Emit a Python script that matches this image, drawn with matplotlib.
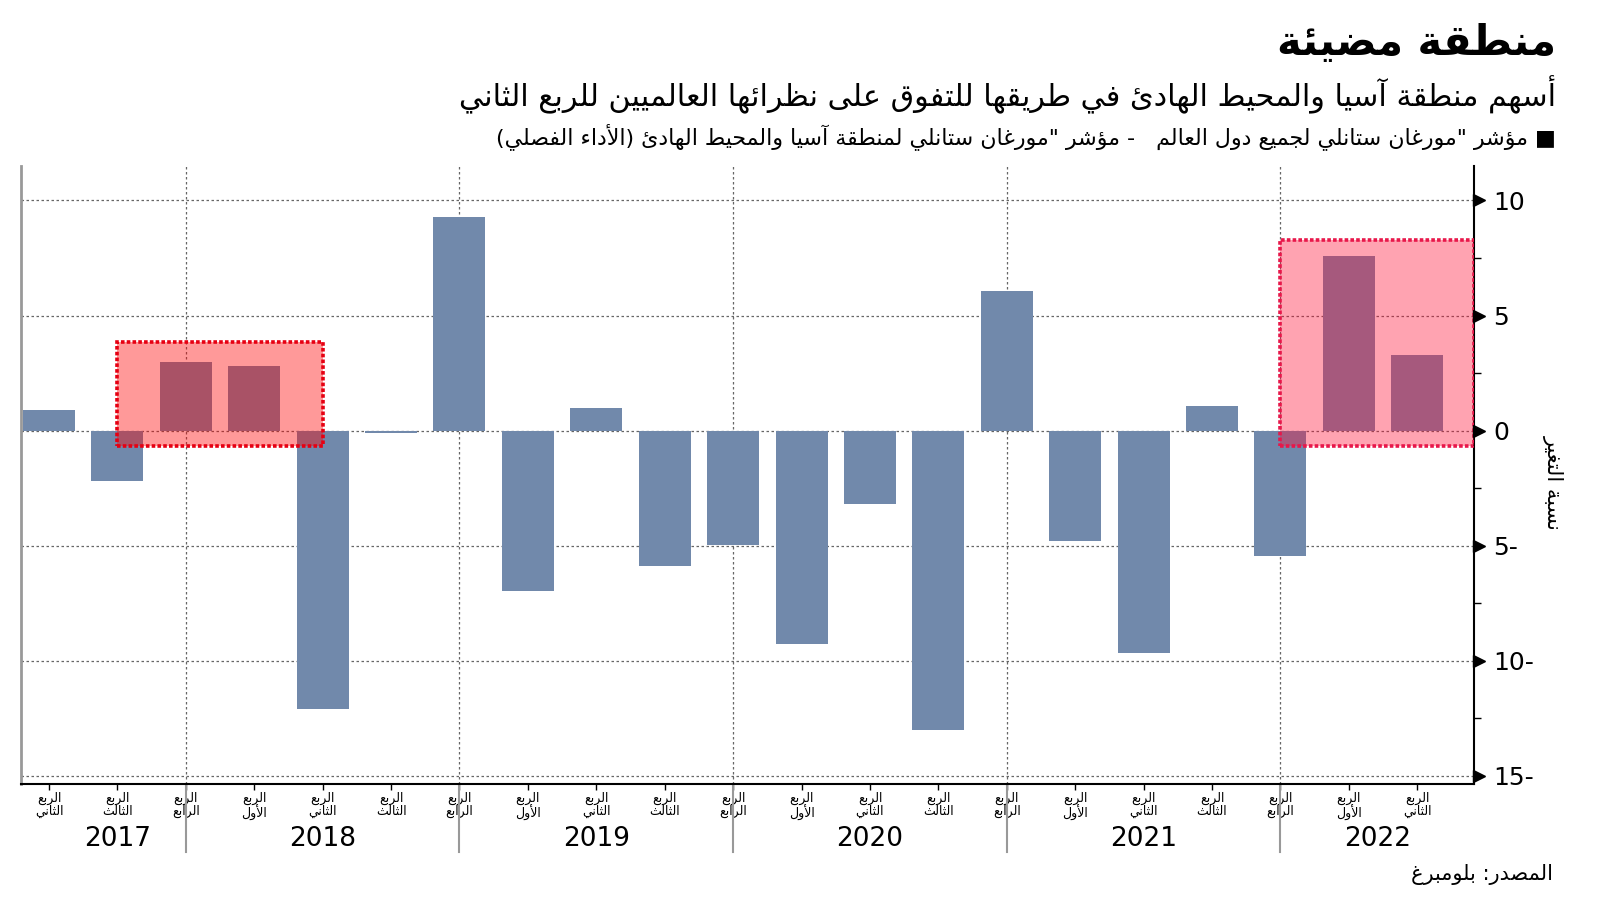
#!/usr/bin/env python
# quarterly relative performance chart, arabic labels shaped by hand
import numpy as np
import matplotlib
matplotlib.use('Agg')
import matplotlib.pyplot as plt
import matplotlib.transforms as mtransforms
from matplotlib.patches import Rectangle

# ---- data ----
years = ['2017', '2018', '2019', '2020', '2021', '2022']
quarters = ['الثاني', 'الثالث', 'الرابع',
            'الأول', 'الثاني', 'الثالث', 'الرابع',
            'الأول', 'الثاني', 'الثالث', 'الرابع',
            'الأول', 'الثاني', 'الثالث', 'الرابع',
            'الأول', 'الثاني', 'الثالث', 'الرابع',
            'الأول', 'الثاني']
values = [0.9, -2.2, 3.0, 2.8, -12.1, -0.1, 9.3,
          -6.95, 1.0, -5.9, -4.95,
          -9.25, -3.2, -13.0, 6.05,
          -4.8, -9.65, 1.05, -5.45,
          7.6, 3.3]
year_breaks = [2, 6, 10, 14, 18]        # index of each Q4 bar
y_ticks = [-15, -10, -5, 0, 5, 10]
y_labels = ['15-', '10-', '5-', '0', '5', '10']
hl_left = [1, 18]
hl_right = [4, 20.83]
hl_top = [3.85, 8.28]
hl_bottom = [-0.68, -0.68]
hl_face = [(1.0, 0.0, 0.0, 0.4), (1.0, 0.05, 0.2, 0.38)]
hl_edge = ['#e60012', '#e8174a']

title = 'منطقة مضيئة'
subtitle = 'أسهم منطقة آسيا والمحيط الهادئ في طريقها للتفوق على نظرائها العالميين للربع الثاني'
legend_txt = '■ مؤشر "مورغان ستانلي لجميع دول العالم   - مؤشر "مورغان ستانلي لمنطقة آسيا والمحيط الهادئ (الأداء الفصلي)'
source = 'المصدر: بلومبرغ'
ylabel = 'نسبة التغير'
q_word = 'الربع'

# ---- minimal arabic shaping (presentation forms) ----
_dual = dict(zip('ئبتثجحخسشصضطظعغفقكلمنهي',
                 [0xFE89, 0xFE8F, 0xFE95, 0xFE99, 0xFE9D, 0xFEA1, 0xFEA5, 0xFEB1,
                  0xFEB5, 0xFEB9, 0xFEBD, 0xFEC1, 0xFEC5, 0xFEC9, 0xFECD, 0xFED1,
                  0xFED5, 0xFED9, 0xFEDD, 0xFEE1, 0xFEE5, 0xFEE9, 0xFEF1]))
_right = dict(zip('آأؤإاةدذرزوى',
                  [0xFE81, 0xFE83, 0xFE85, 0xFE87, 0xFE8D, 0xFE93, 0xFEA9, 0xFEAB,
                   0xFEAD, 0xFEAF, 0xFEED, 0xFEEF]))
_lamalef = {'آ': 0xFEF5, 'أ': 0xFEF7, 'إ': 0xFEF9, 'ا': 0xFEFB}


def ar(s):
    out = []
    i = 0
    while i < len(s):
        c = s[i]
        prev = s[i - 1] if i > 0 else ''
        nxt = s[i + 1] if i + 1 < len(s) else ''
        p = prev in _dual
        if c == 'ل' and nxt in _lamalef:
            out.append(chr(_lamalef[nxt] + (1 if p else 0)))
            i += 2
            continue
        if c in _dual:
            n = nxt in _dual or nxt in _right
            off = 3 if (p and n) else 1 if p else 2 if n else 0
            out.append(chr(_dual[c] + off))
        elif c in _right:
            out.append(chr(_right[c] + (1 if p else 0)))
        elif c == 'ء':
            out.append(chr(0xFE80))
        else:
            out.append(c)
        i += 1
    vis = ''.join(out)[::-1]
    return vis.translate(str.maketrans('()', ')('))


plt.rcParams['font.family'] = ['DejaVu Sans']

fig = plt.figure(figsize=(16, 9.01), dpi=100)
ax = fig.add_axes([0.0131, 0.1299, 0.9082, 0.6859])

x = np.arange(len(values))
ax.bar(x, values, width=0.76, color='#7189ab', zorder=2)

for i in range(len(hl_left)):
    ax.add_patch(Rectangle((hl_left[i], hl_bottom[i]), hl_right[i] - hl_left[i],
                           hl_top[i] - hl_bottom[i], facecolor=hl_face[i],
                           edgecolor=hl_edge[i], lw=2.6, ls=(0, (1, 0.6)), zorder=3))

xmin, xmax = -0.41, 20.83

# grid
for yv in y_ticks:
    ax.axhline(yv, color='#666666', lw=0.9, ls=(0, (2, 2)), zorder=1)
for xb in year_breaks:
    ax.axvline(xb, color='#666666', lw=0.9, ls=(0, (2, 2)), zorder=1)

# spines
ax.spines['top'].set_visible(False)
ax.spines['left'].set_color('#999999')
ax.spines['left'].set_linewidth(2)
ax.spines['bottom'].set_linewidth(1.5)
ax.spines['right'].set_linewidth(1.5)

# y axis on the right
ax.yaxis.tick_right()
ax.set_yticks(y_ticks)
ax.set_yticklabels(y_labels, fontsize=18)
ax.set_yticks([t + 2.5 for t in y_ticks[:-1]], minor=True)
ax.tick_params(axis='y', which='major', length=0, pad=14)
ax.tick_params(axis='y', which='minor', length=5, width=1, direction='out')
ax.tick_params(axis='y', which='both', left=False)
tri = mtransforms.offset_copy(ax.get_yaxis_transform(), fig=fig, x=5, y=0, units='dots')
ax.plot([1] * len(y_ticks), y_ticks, ls='none', marker='>', ms=8, color='black',
        transform=tri, clip_on=False, zorder=5)

# quarter labels
ax.set_xticks(x)
ax.set_xticklabels([ar(q_word) + '\n' + ar(q) for q in quarters], fontsize=9,
                   linespacing=1.0)
ax.tick_params(axis='x', length=4, width=1, pad=1.5)

ax.set_xlim(xmin, xmax)
ax.set_ylim(-15.35, 11.5)

# year separators and labels
bt = ax.get_xaxis_transform()
for xb in year_breaks:
    ax.plot([xb, xb], [0, -0.11], color='#999999', lw=1.5, transform=bt, clip_on=False)
edges = [0] + year_breaks + [xmax]
for j, yr in enumerate(years):
    ax.text((edges[j] + edges[j + 1]) / 2, -0.089, yr, transform=bt, ha='center',
            va='center', fontsize=19)

# texts
fig.text(0.9725, 0.952, ar(title), ha='right', va='center', fontsize=30, fontweight='bold')
fig.text(0.9725, 0.895, ar(subtitle), ha='right', va='center', fontsize=21.8)
fig.text(0.9725, 0.849, ar(legend_txt), ha='right', va='center', fontsize=15.9)
fig.text(0.9706, 0.029, ar(source), ha='right', va='center', fontsize=15)
fig.text(0.9706, 0.465, ar(ylabel), ha='center', va='center', fontsize=15, rotation=-90)

fig.savefig('out.png', dpi=100)
